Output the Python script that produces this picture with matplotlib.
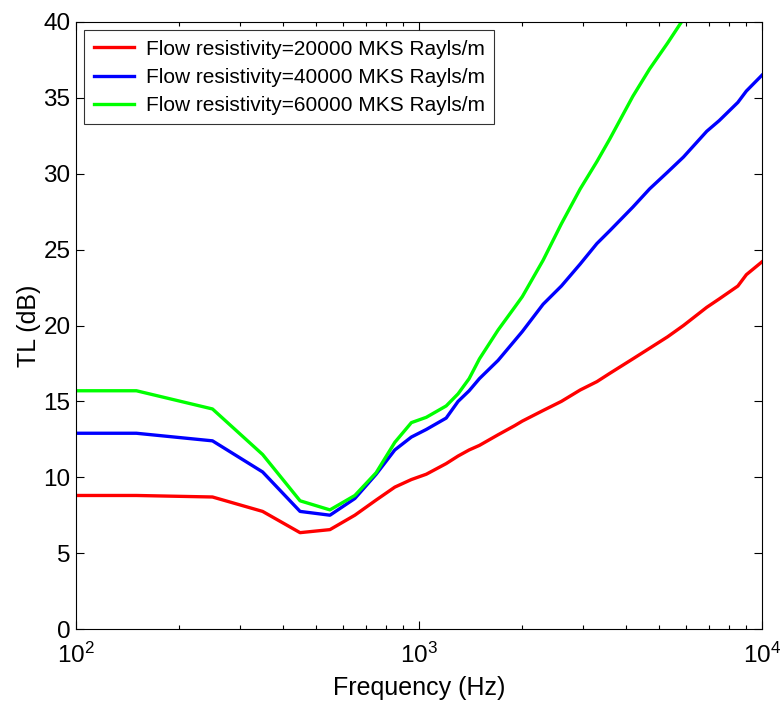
import matplotlib
matplotlib.use('Agg')
import matplotlib.pyplot as plt
import numpy as np

plt.rcParams['font.family'] = ['Liberation Sans', 'DejaVu Sans']

freq = [100, 150, 250, 350, 450, 550, 650, 750, 850, 950, 1050, 1200, 1300,
        1400, 1500, 1700, 1900, 2000, 2300, 2600, 2950, 3300, 3600, 4200,
        4700, 5300, 5900, 6900, 7500, 8500, 9000, 10000]

tl_20000 = [8.8, 8.8, 8.7, 7.75, 6.35, 6.55, 7.5, 8.5, 9.35, 9.85, 10.2, 10.9,
            11.4, 11.8, 12.1, 12.8, 13.4, 13.7, 14.4, 15.0, 15.75, 16.3, 16.85,
            17.8, 18.5, 19.25, 20.0, 21.2, 21.75, 22.6, 23.35, 24.2]

tl_40000 = [12.9, 12.9, 12.4, 10.35, 7.75, 7.5, 8.6, 10.2, 11.8, 12.65, 13.15,
            13.9, 15.0, 15.7, 16.5, 17.7, 19.0, 19.6, 21.4, 22.6, 24.05, 25.4,
            26.25, 27.8, 29.0, 30.1, 31.1, 32.8, 33.5, 34.7, 35.45, 36.5]

tl_60000 = [15.7, 15.7, 14.5, 11.5, 8.45, 7.85, 8.8, 10.3, 12.3, 13.6, 13.95,
            14.7, 15.5, 16.5, 17.8, 19.7, 21.2, 21.9, 24.3, 26.7, 29.0, 30.8,
            32.3, 35.1, 36.9, 38.6, 40.2, 42.6, 43.8, 45.7, 46.5, 48.1]

labels = ['Flow resistivity=20000 MKS Rayls/m',
          'Flow resistivity=40000 MKS Rayls/m',
          'Flow resistivity=60000 MKS Rayls/m']
colors = ['#ff0000', '#0000ff', '#00ff00']

fig = plt.figure(figsize=(7.8, 7.09), dpi=100)
ax = fig.add_axes([0.0974, 0.1128, 0.8796, 0.8562])

for tl, lab, c in zip([tl_20000, tl_40000, tl_60000], labels, colors):
    ax.semilogx(freq, tl, color=c, linewidth=2.4, label=lab)

ax.set_xlim(100, 10000)
ax.set_ylim(0, 40)
ax.set_yticks(np.arange(0, 41, 5))
ax.tick_params(which='both', direction='in', top=True, right=True,
               labelsize=17.5)
ax.tick_params(which='major', length=6, width=0.8)
ax.tick_params(which='minor', length=3, width=0.8)
ax.tick_params(axis='x', pad=10)
ax.tick_params(axis='y', pad=4)
for s in ax.spines.values():
    s.set_linewidth(0.8)

ax.set_xlabel('Frequency (Hz)', fontsize=18, labelpad=6)
ax.set_ylabel('TL (dB)', fontsize=18, labelpad=2)

leg = ax.legend(loc='upper left', fontsize=15, frameon=True, fancybox=False,
                edgecolor='black', borderaxespad=0.4, handlelength=1.95,
                handletextpad=0.55, labelspacing=0.44, borderpad=0.45)
leg.get_frame().set_linewidth(0.8)

fig.savefig('out.png', dpi=100)
